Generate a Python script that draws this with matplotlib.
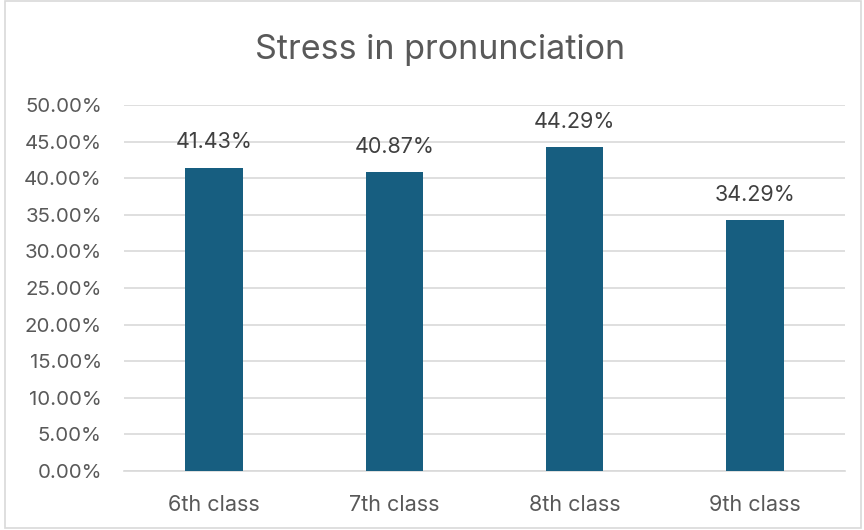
import matplotlib.pyplot as plt
from matplotlib.patches import Rectangle
from matplotlib.ticker import PercentFormatter

plt.rcParams['font.family'] = ['Inter', 'DejaVu Sans']

# Data
classes = ['6th class', '7th class', '8th class', '9th class']
stress = [0.4143, 0.4087, 0.4429, 0.3429]
labels = ['41.43%', '40.87%', '44.29%', '34.29%']

fig = plt.figure(figsize=(8.64, 5.30), dpi=100)
ax = fig.add_axes([0.1435, 0.1113, 0.8345, 0.6906])

bars = ax.bar(classes, stress, width=0.32, color='#175E80', zorder=3)
for b, lab in zip(bars, labels):
    ax.annotate(lab, (b.get_x() + b.get_width() / 2, b.get_height()),
                xytext=(0, 11), textcoords='offset points',
                ha='center', va='bottom', fontsize=15.5, color='#404040')

ax.set_ylim(0, 0.5)
ax.set_xlim(-0.5, 3.5)
ax.set_yticks([i * 0.05 for i in range(11)])
ax.yaxis.set_major_formatter(PercentFormatter(1.0, decimals=2))
ax.grid(axis='y', color='#d9d9d9', linewidth=1.2, zorder=0)
for s in ['top', 'right', 'left']:
    ax.spines[s].set_visible(False)
ax.spines['bottom'].set_color('#d9d9d9')
ax.spines['bottom'].set_linewidth(1.2)
ax.tick_params(axis='y', length=0, labelsize=14.7, labelcolor='#595959', pad=16)
ax.tick_params(axis='x', length=0, labelsize=15.5, labelcolor='#595959', pad=17)

fig.text(0.509, 0.905, 'Stress in pronunciation', ha='center', va='center',
         fontsize=24.5, color='#595959')

fig.patches.append(Rectangle((0.006, 0.004), 0.991, 0.994, transform=fig.transFigure,
                             fill=False, edgecolor='#d9d9d9', linewidth=1.2))

fig.savefig('out.png', dpi=100)
